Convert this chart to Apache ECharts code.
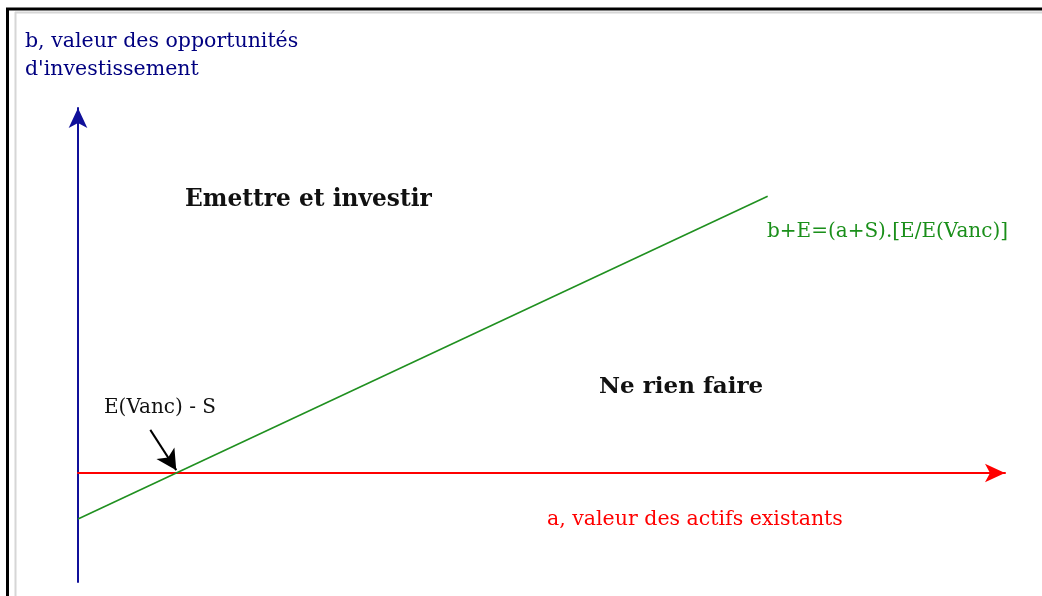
<!DOCTYPE html>
<html>
<head>
<meta charset="utf-8">
<script src="https://cdn.jsdelivr.net/npm/echarts@6/dist/echarts.min.js"></script>
<style>
html, body { margin: 0; padding: 0; background: #fff; }
#chart { width: 1042px; height: 596px; }
</style>
</head>
<body>
<div id="chart"></div>
<script>
// axis extents (arbitrary units, a = x, b = y)
var aRange = [0, 100];
var bRange = [-23, 77];
// b+E=(a+S).[E/E(Vanc)] frontier
var frontier = [[0, -9.7], [74.4, 58.4]];
// pointer towards E(Vanc) - S
var pointer = [[7.8, 9.1], [10.6, 0.6]];

var yTitle = ['b, valeur des opportunités', "d'investissement"];
var xTitle = 'a, valeur des actifs existants';
var frontierLabel = 'b+E=(a+S).[E/E(Vanc)]';
var zoneTop = 'Emettre et investir';
var zoneBottom = 'Ne rien faire';
var pointLabel = 'E(Vanc) - S';

var serif = '"DejaVu Serif", "Liberation Serif", serif';

var chart = echarts.init(document.getElementById('chart'));

// text placed by its left edge and vertical centre
function txt(left, y, text, size, color, bold) {
    return {
        type: 'text',
        left: left,
        top: y - size * 0.44,
        style: {
            text: text,
            fill: color,
            font: (bold ? 'bold ' : '') + size + 'px ' + serif
        }
    };
}

var option = {
    backgroundColor: '#fff',
    animation: false,
    grid: { left: 78, right: 37, top: 108, bottom: 14 },
    xAxis: {
        type: 'value',
        min: aRange[0],
        max: aRange[1],
        axisLine: {
            onZero: true,
            symbol: ['none', 'arrow'],
            symbolSize: [14, 20],
            lineStyle: { color: '#ff0000', width: 2 }
        },
        axisTick: { show: false },
        axisLabel: { show: false },
        splitLine: { show: false }
    },
    yAxis: {
        type: 'value',
        min: bRange[0],
        max: bRange[1],
        axisLine: {
            show: true,
            onZero: false,
            symbol: ['none', 'arrow'],
            symbolSize: [14, 20],
            lineStyle: { color: '#10109a', width: 2 }
        },
        axisTick: { show: false },
        axisLabel: { show: false },
        splitLine: { show: false }
    },
    series: [{
        type: 'line',
        data: frontier,
        symbol: 'none',
        lineStyle: { color: '#209020', width: 1.6 },
        silent: true,
        markLine: {
            silent: true,
            symbol: ['none', 'arrow'],
            symbolSize: [16, 20],
            lineStyle: { color: '#000', width: 2, type: 'solid' },
            label: { show: false },
            data: [[{ coord: pointer[0] }, { coord: pointer[1] }]]
        }
    }],
    graphic: [
        { type: 'line', shape: { x1: 6, y1: 9, x2: 1042, y2: 9 }, style: { stroke: '#000', lineWidth: 3 } },
        { type: 'line', shape: { x1: 7.5, y1: 8, x2: 7.5, y2: 596 }, style: { stroke: '#000', lineWidth: 3 } },
        { type: 'line', shape: { x1: 15, y1: 12.5, x2: 1042, y2: 12.5 }, style: { stroke: '#d6d6d6', lineWidth: 2 } },
        { type: 'line', shape: { x1: 15.5, y1: 12, x2: 15.5, y2: 596 }, style: { stroke: '#d6d6d6', lineWidth: 2 } },
        txt(25, 40, yTitle[0], 20.5, '#000080', false),
        txt(25, 68, yTitle[1], 20.5, '#000080', false),
        txt(185, 199, zoneTop, 23.3, '#111', true),
        txt(767, 231, frontierLabel, 20, '#1a8f1a', false),
        txt(599, 386, zoneBottom, 23, '#111', true),
        txt(104, 407, pointLabel, 20, '#111', false),
        txt(547, 518, xTitle, 20.5, '#ff0000', false)
    ]
};

chart.setOption(option);
</script>
</body>
</html>
